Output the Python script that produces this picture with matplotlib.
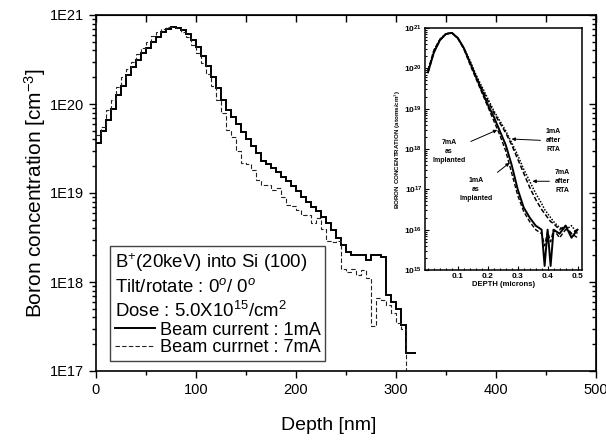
import numpy as np
import matplotlib
matplotlib.use("Agg")
import matplotlib.pyplot as plt
from matplotlib.lines import Line2D
from matplotlib.ticker import FixedLocator, LogLocator, FuncFormatter, NullFormatter, MultipleLocator

plt.rcParams['font.family'] = ['Liberation Sans', 'DejaVu Sans']
plt.rcParams['mathtext.fontset'] = 'custom'
plt.rcParams['mathtext.rm'] = 'Liberation Sans'
plt.rcParams['mathtext.it'] = 'Liberation Sans:italic'
plt.rcParams['mathtext.bf'] = 'Liberation Sans:bold'

# ---- main profiles (5 nm bins) ----
bin_width = 5
conc_1mA = [3.6e19, 5.0e19, 6.6e19, 8.9e19, 1.26e20, 1.6e20, 2.1e20, 2.6e20,
            3.1e20, 3.7e20, 4.3e20, 5.0e20, 5.7e20, 6.5e20, 7.0e20, 7.3e20,
            7.2e20, 6.8e20, 6.1e20, 5.2e20, 4.4e20, 3.5e20, 2.7e20, 2.0e20,
            1.5e20, 1.1e20, 8.5e19, 7.2e19, 6.0e19, 4.9e19, 4.0e19, 3.4e19,
            2.8e19, 2.3e19, 2.1e19, 1.9e19, 1.7e19, 1.5e19, 1.35e19, 1.2e19,
            1.05e19, 9.0e18, 8.0e18, 7.0e18, 6.3e18, 5.4e18, 4.6e18, 3.8e18,
            3.1e18, 2.6e18, 2.2e18, 2.0e18, 2.0e18, 2.0e18, 1.75e18, 2.0e18,
            2.0e18, 1.9e18, 7.2e17, 6.0e17, 5.0e17, 3.3e17, 1.6e17, 1.6e17]
conc_7mA = [4.5e19, 5.5e19, 8.5e19, 1.1e20, 1.55e20, 2.0e20, 2.5e20, 3.0e20,
            3.6e20, 4.3e20, 5.0e20, 5.8e20, 6.4e20, 7.0e20, 7.4e20, 7.4e20,
            7.1e20, 6.5e20, 5.7e20, 4.6e20, 3.7e20, 2.9e20, 2.2e20, 1.6e20,
            1.1e20, 7.9e19, 5.1e19, 4.3e19, 3.0e19, 2.2e19, 2.1e19, 1.8e19,
            1.4e19, 1.23e19, 1.23e19, 1.08e19, 1.15e19, 9.1e18, 7.4e18, 7.1e18,
            6.4e18, 5.6e18, 5.6e18, 4.6e18, 5.2e18, 3.9e18, 2.9e18, 2.8e18,
            2.9e18, 1.4e18, 1.3e18, 1.4e18, 1.2e18, 1.35e18, 1.1e18, 3.2e17,
            6.6e17, 6.2e17, 5.5e17, 4.5e17, 3.5e17, 3.0e17, 5e16]

edges_1mA = np.arange(len(conc_1mA) + 1) * bin_width
edges_7mA = np.arange(len(conc_7mA) + 1) * bin_width

# ---- inset (scanned SIMS plot) ----
in_depth = [0.0, 0.02, 0.04, 0.06, 0.08, 0.10, 0.12, 0.14, 0.16, 0.18, 0.20,
            0.22, 0.24, 0.26, 0.28, 0.30, 0.32, 0.34, 0.36, 0.38, 0.39, 0.40,
            0.41, 0.42, 0.44, 0.46, 0.48, 0.50]
in_1mA_impl = [19.9, 20.4, 20.7, 20.85, 20.88, 20.75, 20.5, 20.15, 19.8, 19.45,
               19.1, 18.8, 18.45, 18.1, 17.6, 17.0, 16.55, 16.3, 16.1, 16.0,
               15.1, 16.0, 15.1, 16.0, 15.9, 16.1, 15.8, 16.0]
in_7mA_impl = [19.95, 20.45, 20.72, 20.86, 20.88, 20.74, 20.48, 20.1, 19.75,
               19.4, 19.05, 18.7, 18.35, 17.95, 17.4, 16.85, 16.45, 16.2, 16.0,
               15.9, 15.6, 15.95, 15.7, 16.0, 15.8, 16.0, 15.9, 15.8]
in_1mA_rta = [19.9, 20.4, 20.7, 20.85, 20.88, 20.75, 20.5, 20.15, 19.8, 19.5,
              19.2, 18.9, 18.65, 18.4, 18.1, 17.75, 17.4, 17.05, 16.75, 16.5,
              16.4, 16.3, 16.2, 16.15, 16.0, 16.1, 15.9, 16.0]
in_7mA_rta = [19.95, 20.45, 20.72, 20.86, 20.88, 20.74, 20.5, 20.2, 19.85,
              19.55, 19.25, 18.95, 18.7, 18.45, 18.15, 17.85, 17.5, 17.2, 16.9,
              16.65, 16.5, 16.4, 16.3, 16.2, 16.05, 16.0, 16.1, 15.9]

fig = plt.figure(figsize=(6.06, 4.42), dpi=100)
ax = fig.add_axes([96 / 606, 71 / 442, 500 / 606, 356 / 442])

ax.stairs(conc_1mA, edges_1mA, baseline=None, color='black', lw=1.4)
ax.stairs(conc_7mA, edges_7mA, baseline=None, color='#222222', lw=0.8,
          linestyle=(0, (4, 2)))

ax.set_yscale('log')
ax.set_xlim(0, 500)
ax.set_ylim(1e17, 1e21)
ax.xaxis.set_major_locator(MultipleLocator(100))
ax.xaxis.set_minor_locator(MultipleLocator(50))
ax.yaxis.set_major_locator(LogLocator(base=10))
ax.yaxis.set_minor_locator(LogLocator(base=10, subs=np.arange(2, 10)))
ax.yaxis.set_major_formatter(FuncFormatter(lambda v, _: f"1E{int(round(np.log10(v)))}"))
ax.yaxis.set_minor_formatter(NullFormatter())
ax.tick_params(which='both', direction='out', labelsize=10.5, width=1.0)
ax.tick_params(which='major', length=5)
ax.tick_params(which='minor', length=3)
for sp in ax.spines.values():
    sp.set_linewidth(1.2)

# mirrored axes with inward ticks (top / right)
top = ax.secondary_xaxis('top')
top.xaxis.set_major_locator(MultipleLocator(50))
top.tick_params(direction='in', length=5, width=1.0, labeltop=False)
right = ax.secondary_yaxis('right')
right.yaxis.set_major_locator(LogLocator(base=10))
right.yaxis.set_minor_locator(LogLocator(base=10, subs=np.arange(2, 10)))
right.tick_params(which='both', direction='in', width=1.0, labelright=False)
right.tick_params(which='major', length=5)
right.tick_params(which='minor', length=3)

ax.set_xlabel('Depth [nm]', fontsize=14)
ax.xaxis.set_label_coords(0.466, -0.128)
ax.set_ylabel('Boron concentration [cm$^{-3}$]', fontsize=15)
ax.yaxis.set_label_coords(-0.097, 0.5)

handles = [Line2D([], [], color='black', lw=1.4),
           Line2D([], [], color='#222222', lw=0.8, linestyle=(0, (4, 2)))]
leg = ax.legend(handles, ['Beam current : 1mA', 'Beam currnet : 7mA'],
                title='B$^{+}$(20keV) into Si (100)\nTilt/rotate : 0$^{o}$/ 0$^{o}$\n'
                      'Dose : 5.0X10$^{15}$/cm$^{2}$',
                alignment='left', loc='lower left', bbox_to_anchor=(0.028, 0.028),
                borderaxespad=0, fontsize=13.1, title_fontsize=13.4,
                frameon=True, fancybox=False, edgecolor='#444444', framealpha=1,
                handlelength=2.2, handletextpad=0.3, labelspacing=0.05,
                borderpad=0.25)
leg.get_frame().set_linewidth(1.0)
leg.get_title().set_linespacing(1.3)

# inset
axi = fig.add_axes([425 / 606, 172 / 442, 157 / 606, 242 / 442])
axi.plot(in_depth, 10 ** np.array(in_1mA_impl), color='black', lw=1.4)
axi.plot(in_depth, 10 ** np.array(in_7mA_impl), color='black', lw=1.0,
         linestyle=(0, (3, 1.5)))
axi.plot(in_depth, 10 ** np.array(in_1mA_rta), color='black', lw=1.1,
         linestyle=(0, (3, 1.5)))
axi.plot(in_depth, 10 ** np.array(in_7mA_rta), color='black', lw=1.1,
         linestyle=(0, (1, 1)))
axi.set_yscale('log')
axi.set_xlim(-0.01, 0.515)
axi.set_ylim(1e15, 1e21)
axi.xaxis.set_major_locator(FixedLocator([0.1, 0.2, 0.3, 0.4, 0.5]))
axi.xaxis.set_minor_locator(MultipleLocator(0.02))
axi.yaxis.set_minor_locator(LogLocator(base=10, subs=np.arange(2, 10)))
axi.yaxis.set_minor_formatter(NullFormatter())
axi.tick_params(which='both', direction='in', labelsize=6, width=0.8, pad=2)
axi.tick_params(which='major', length=3)
axi.tick_params(which='minor', length=1.5)
for t in axi.get_xticklabels() + axi.get_yticklabels():
    t.set_fontweight('bold')
for sp in axi.spines.values():
    sp.set_linewidth(1.1)
axi.set_xlabel('DEPTH (microns)', fontsize=5.5, fontweight='bold', labelpad=1)
axi.set_ylabel('BORON CONCENTRATION (atoms/cm$^{3}$)', fontsize=4.5,
               fontweight='bold', labelpad=1)

ann = dict(fontsize=5, fontweight='bold', ha='center', va='center', linespacing=1.4,
           arrowprops=dict(arrowstyle='-|>', lw=0.7, color='black', mutation_scale=5))
axi.annotate('7mA\nas\nImplanted', xy=(0.24, 10 ** 18.5), xytext=(0.07, 10 ** 17.95), **ann)
axi.annotate('1mA\nas\nImplanted', xy=(0.28, 10 ** 17.7), xytext=(0.16, 10 ** 17.0), **ann)
axi.annotate('1mA\nafter\nRTA', xy=(0.27, 10 ** 18.25), xytext=(0.42, 10 ** 18.2), **ann)
axi.annotate('7mA\nafter\nRTA', xy=(0.34, 10 ** 17.2), xytext=(0.45, 10 ** 17.2), **ann)

fig.savefig('out.png', dpi=100)
